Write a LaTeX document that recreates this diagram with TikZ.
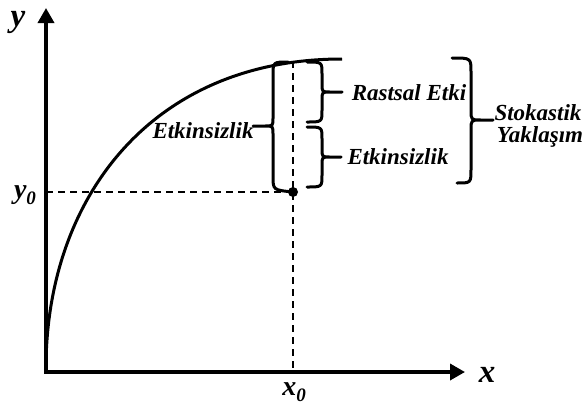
\documentclass[tikz,border=0pt]{standalone}
\usepackage{fontspec}
\setmainfont{Liberation Serif}
\usetikzlibrary{arrows.meta}
\begin{document}
\begin{tikzpicture}[x=1pt,y=-1pt,
  axis/.style={line width=3.5pt, -{Triangle[length=15pt,width=16pt]}},
  curvel/.style={line width=3pt},
  brc/.style={line width=3pt, line join=round, line cap=round},
  guide/.style={line width=1.5pt, dash pattern=on 7pt off 5pt},
  lbl/.style={font=\fontsize{23}{26}\selectfont\bfseries\itshape, inner sep=0pt, anchor=base},
  axl/.style={font=\fontsize{33}{36}\selectfont\bfseries\itshape, inner sep=0pt, anchor=base, text height=15pt, text depth=8pt},
  subl/.style={font=\fontsize{28}{30}\selectfont\bfseries\itshape, inner sep=0pt, anchor=base}]
\path[use as bounding box] (0,0) rectangle (586,407);
% key points
\coordinate (O) at (46,372);
\coordinate (ytip) at (46,8);
\coordinate (xtip) at (465,372);
\coordinate (cs) at (46,368);
\coordinate (ce) at (342,59);
\coordinate (P) at (293,192);
\coordinate (Px) at (293,372);
\coordinate (Py) at (46,192);
\coordinate (Ptop) at (293,61);
% guides
\draw[guide] (Py) -- (P);
\draw[guide] (Ptop) -- (Px);
% axes
\draw[axis] (O) -- (ytip);
\draw[axis] (O) -- (xtip);
\fill (O) ++(-1.75,-1.75) rectangle ++(3.5,3.5);
% curve
\draw[curvel] (cs) .. controls (46,200) and (150,59) .. (ce);
% point
\fill (P) circle (5);
% left big brace {
\draw[brc] (288,62) .. controls (273,62) .. (273,76) -- (273,118)
  .. controls (273,126) .. (265,126) -- (253,126) -- (265,126)
  .. controls (273,126) .. (273,134) -- (273,176) .. controls (273,190) .. (P);
% small brace 1 }
\draw[brc] (307,62) .. controls (322,62) .. (322,74) -- (322,84)
  .. controls (322,92) .. (330,92) -- (342,92) -- (330,92)
  .. controls (322,92) .. (322,100) -- (322,110) .. controls (322,122) .. (307,122);
% small brace 2 }
\draw[brc] (307,127) .. controls (322,127) .. (322,139) -- (322,149)
  .. controls (322,157) .. (330,157) -- (341,157) -- (330,157)
  .. controls (322,157) .. (322,165) -- (322,175) .. controls (322,187) .. (307,187);
% big right brace }
\draw[brc] (452,58) .. controls (471,58) .. (471,72) -- (471,110)
  .. controls (471,120) .. (481,120) -- (493,120) -- (481,120)
  .. controls (471,120) .. (471,130) -- (471,169) .. controls (471,183) .. (457,183);
% labels
\node[axl] (ylab) at (18,26) {y};
\node[axl] (xlab) at (487,382) {x};
\node[subl] (y0) at (25,198) {y\raisebox{-6pt}{\fontsize{19}{19}\selectfont 0}};
\node[subl] (x0) at (294,395) {x\raisebox{-6pt}{\fontsize{19}{19}\selectfont 0}};
\node[lbl] (etk1) at (203,138) {Etkinsizlik};
\node[lbl] (rast) at (409,100) {Rastsal Etki};
\node[lbl] (etk2) at (398,164) {Etkinsizlik};
\node[lbl] (stok) at (538,120) {Stokastik};
\node[lbl] (yak) at (540,142) {Yaklaşım};
\end{tikzpicture}
\end{document}
